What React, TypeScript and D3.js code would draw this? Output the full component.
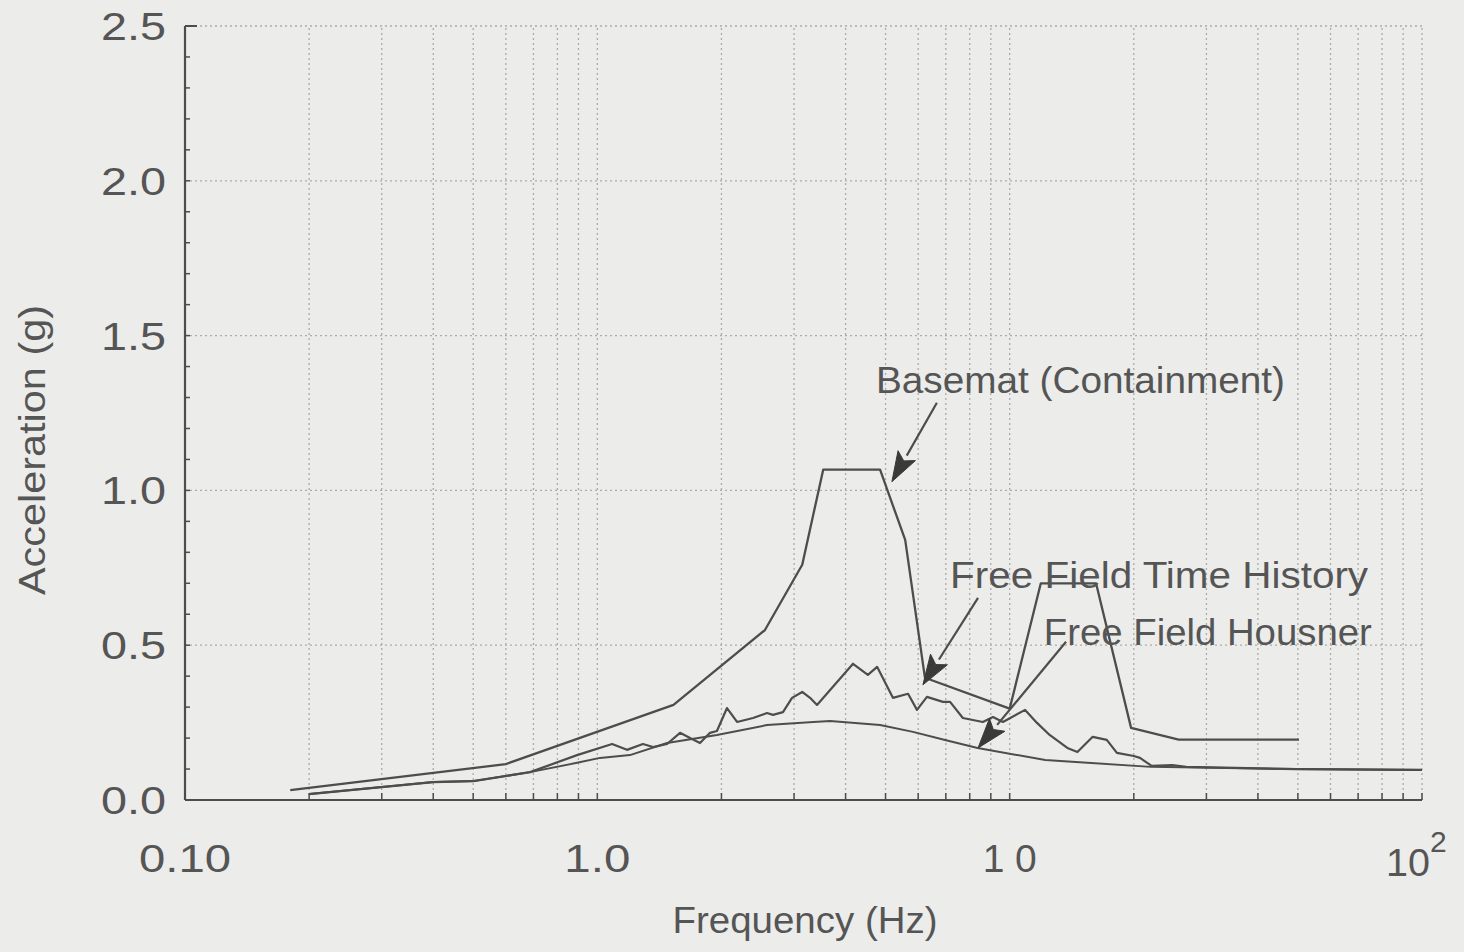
import React from 'react';
import * as d3 from 'd3';

// ---- data (frequency in Hz, spectral acceleration in g) ----
const basematFreq = [0.18, 0.6, 1.53, 2.55, 3.14, 3.53, 4.85, 5.58, 6.23, 10.0, 11.9, 16.2, 19.7, 25.7, 50.3];
const basematAcc = [0.032, 0.116, 0.307, 0.549, 0.76, 1.067, 1.067, 0.84, 0.395, 0.295, 0.70, 0.70, 0.233, 0.195, 0.195];

const housnerFreq = [0.2, 0.4, 0.5, 0.687, 0.893, 1.015, 1.2, 1.476, 1.95, 2.58, 3.34, 3.67, 4.85, 5.83, 6.97, 8.36, 12.2, 22.0, 49.5, 100];
const housnerAcc = [0.019, 0.058, 0.061, 0.09, 0.12, 0.136, 0.145, 0.184, 0.21, 0.242, 0.252, 0.255, 0.242, 0.22, 0.194, 0.168, 0.129, 0.107, 0.1, 0.097];

const timeHistFreq = [0.2, 0.4, 0.5, 0.687, 0.893, 1.086, 1.18, 1.29, 1.365, 1.476, 1.587, 1.678, 1.774, 1.876, 1.95, 2.063, 2.182, 2.386, 2.58, 2.667, 2.82, 2.966, 3.14, 3.28, 3.41, 4.17, 4.53, 4.77, 5.21, 5.67, 5.96, 6.3, 6.89, 7.17, 7.7, 8.61, 9.11, 9.63, 10.9, 11.65, 12.5, 13.8, 14.6, 15.9, 17.2, 18.2, 20.0, 20.7, 22.1, 24.8, 26.8, 49.5, 100];
const timeHistAcc = [0.019, 0.058, 0.061, 0.09, 0.145, 0.181, 0.162, 0.181, 0.171, 0.181, 0.217, 0.2, 0.184, 0.217, 0.223, 0.297, 0.252, 0.265, 0.281, 0.275, 0.284, 0.33, 0.349, 0.33, 0.307, 0.44, 0.404, 0.43, 0.33, 0.343, 0.291, 0.333, 0.317, 0.317, 0.265, 0.252, 0.268, 0.252, 0.291, 0.249, 0.21, 0.168, 0.155, 0.204, 0.194, 0.152, 0.142, 0.136, 0.11, 0.113, 0.107, 0.1, 0.097];

const yTickValues = [0, 0.5, 1.0, 1.5, 2.0, 2.5];
const yTickLabels = ['0.0', '0.5', '1.0', '1.5', '2.0', '2.5'];
const xDecadeValues = [0.1, 1, 10];
const xDecadeLabels = ['0.10', '1.0', '1 0'];

const labelTexts = ['Basemat (Containment)', 'Free Field Time History', 'Free Field Housner'];
const labelFreq = [4.74, 7.17, 12.1];
const labelAcc = [1.315, 0.685, 0.501];
const arrowTailFreq = [6.66, 8.38, 13.7];
const arrowTailAcc = [1.283, 0.653, 0.511];
const arrowTipFreq = [5.18, 6.16, 8.38];
const arrowTipAcc = [1.028, 0.372, 0.168];

const W = 1464;
const H = 952;
const FONT = '"Liberation Sans", Arial, Helvetica, sans-serif';
const INK = '#4d4d4d';
const TEXT = '#555555';
const GRID = '#ababab';

export default function App() {
  const x = d3.scaleLog().domain([0.1, 100]).range([185, 1422]);
  const y = d3.scaleLinear().domain([0, 2.5]).range([800, 26]);

  const line = d3
    .line<[number, number]>()
    .x((d) => x(d[0]))
    .y((d) => y(d[1]));

  const zip = (a: number[], b: number[]) => a.map((v, i) => [v, b[i]] as [number, number]);

  const gridX: number[] = [];
  [0.1, 1, 10].forEach((dec) => {
    for (let k = 1; k <= 9; k++) gridX.push(dec * k);
  });
  gridX.push(100);

  const yMinor = d3.range(0, 2.5001, 0.1);

  const arrows = labelTexts.map((_, i) => {
    const tx = x(arrowTailFreq[i]);
    const ty = y(arrowTailAcc[i]);
    const px = x(arrowTipFreq[i]);
    const py = y(arrowTipAcc[i]);
    const dx = px - tx;
    const dy = py - ty;
    const len = Math.hypot(dx, dy);
    const ux = dx / len;
    const uy = dy / len;
    const hl = 30;
    const hw = 10;
    const bx = px - ux * hl;
    const by = py - uy * hl;
    const head = `M${px},${py}L${bx - uy * hw},${by + ux * hw}L${bx + ux * 6},${by + uy * 6}L${bx + uy * hw},${by - ux * hw}Z`;
    return { tx, ty, bx, by, head };
  });

  const labelLengths = [409, 418, 328];
  const stretch = 'spacingAndGlyphs';

  return (
    <svg
      width={W}
      height={H}
      style={{ position: 'absolute', left: 0, top: 0, background: '#ececea' }}
      fontFamily={FONT}
    >
      <rect x={0} y={0} width={W} height={H} fill="#ececea" />

      {gridX.map((g, i) => (
        <line
          key={'gx' + i}
          x1={x(g)}
          x2={x(g)}
          y1={y(0)}
          y2={y(2.5)}
          stroke={GRID}
          strokeWidth={1.3}
          strokeDasharray="2,3"
        />
      ))}
      {yTickValues.slice(1).map((v, i) => (
        <line
          key={'gy' + i}
          x1={x(0.1)}
          x2={x(100)}
          y1={y(v)}
          y2={y(v)}
          stroke={GRID}
          strokeWidth={1.3}
          strokeDasharray="2,3"
        />
      ))}

      <line x1={x(0.1)} x2={x(0.1)} y1={y(0)} y2={y(2.5)} stroke={INK} strokeWidth={2.2} />
      <line x1={x(0.1)} x2={x(100)} y1={y(0)} y2={y(0)} stroke={INK} strokeWidth={2.2} />
      <line x1={x(0.1)} x2={x(0.1) + 12} y1={y(2.5)} y2={y(2.5)} stroke={INK} strokeWidth={2} />

      {yMinor.map((v, i) => (
        <line key={'yt' + i} x1={x(0.1)} x2={x(0.1) + 5} y1={y(v)} y2={y(v)} stroke={INK} strokeWidth={1.5} />
      ))}
      {gridX.map((g, i) => (
        <line key={'xt' + i} x1={x(g)} x2={x(g)} y1={y(0)} y2={y(0) - 7} stroke={INK} strokeWidth={1.5} />
      ))}

      {yTickValues.map((v, i) => (
        <text
          key={'yl' + i}
          x={166}
          y={y(v) + 14}
          textAnchor="end"
          fontSize={39}
          fill={TEXT}
          textLength={65}
          lengthAdjust={stretch}
        >
          {yTickLabels[i]}
        </text>
      ))}

      {xDecadeValues.map((v, i) => (
        <text
          key={'xl' + i}
          x={x(v)}
          y={872}
          textAnchor="middle"
          fontSize={39}
          fill={TEXT}
          textLength={i === 0 ? 92 : i === 1 ? 66 : 54}
          lengthAdjust={i === 2 ? 'spacing' : stretch}
        >
          {xDecadeLabels[i]}
        </text>
      ))}
      <text x={x(100) - 36} y={876} fontSize={39} fill={TEXT} textLength={44} lengthAdjust={stretch}>
        10
      </text>
      <text x={x(100) + 8} y={852} fontSize={30} fill={TEXT}>
        2
      </text>

      <text x={805} y={933} textAnchor="middle" fontSize={36} fill={TEXT} textLength={265} lengthAdjust={stretch}>
        Frequency (Hz)
      </text>
      <text
        transform={`translate(45,450) rotate(-90)`}
        textAnchor="middle"
        fontSize={36}
        fill={TEXT}
        textLength={290}
        lengthAdjust={stretch}
      >
        Acceleration (g)
      </text>

      <path d={line(zip(housnerFreq, housnerAcc)) || ''} fill="none" stroke={INK} strokeWidth={2} strokeLinejoin="round" />
      <path d={line(zip(timeHistFreq, timeHistAcc)) || ''} fill="none" stroke={INK} strokeWidth={2.2} strokeLinejoin="round" />
      <path d={line(zip(basematFreq, basematAcc)) || ''} fill="none" stroke={INK} strokeWidth={2.3} strokeLinejoin="round" />

      {labelTexts.map((t, i) => (
        <text
          key={'lab' + i}
          x={x(labelFreq[i])}
          y={y(labelAcc[i])}
          fontSize={36}
          fill={TEXT}
          textLength={labelLengths[i]}
          lengthAdjust={stretch}
        >
          {t}
        </text>
      ))}
      {arrows.map((a, i) => (
        <g key={'ar' + i}>
          <line x1={a.tx} y1={a.ty} x2={a.bx} y2={a.by} stroke={INK} strokeWidth={2.2} />
          <path d={a.head} fill="#3a3a3a" stroke="#3a3a3a" strokeWidth={1} strokeLinejoin="round" />
        </g>
      ))}
    </svg>
  );
}
